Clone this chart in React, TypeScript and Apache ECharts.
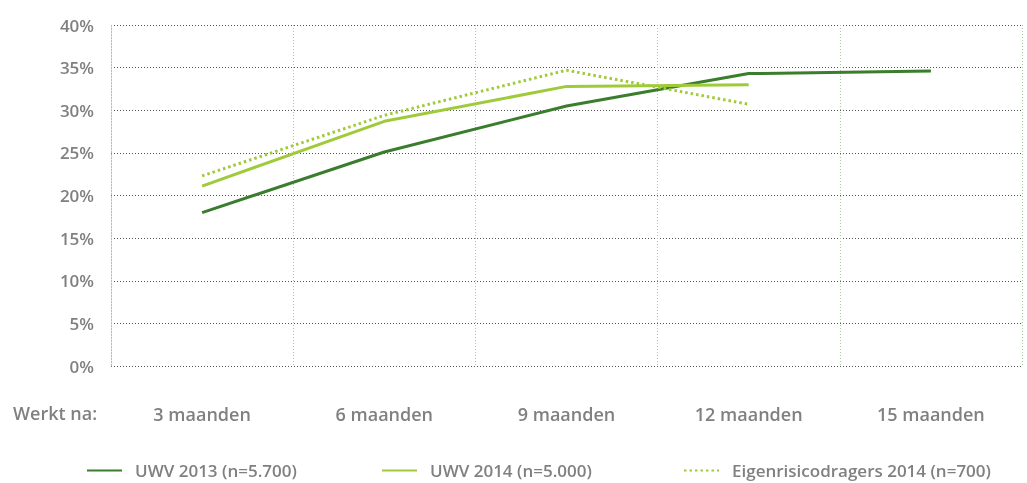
import React, { useEffect, useRef } from "react";
import * as echarts from "echarts";

const categories = ["3 maanden", "6 maanden", "9 maanden", "12 maanden", "15 maanden"];
const uwv2013 = [18.0, 25.1, 30.5, 34.3, 34.6];
const uwv2014 = [21.1, 28.7, 32.8, 33.0, null];
const eigen2014 = [22.3, 29.4, 34.7, 30.7, null];
const seriesNames = ["UWV 2013 (n=5.700)", "UWV 2014 (n=5.000)", "Eigenrisicodragers 2014 (n=700)"];

const DARK = "#3a7d2c";
const LIGHT = "#9fcb3a";
const GRAY = "#808080";
const FONT = "'Open Sans'";

export default function App() {
  const ref = useRef<HTMLDivElement>(null);
  useEffect(() => {
    if (!ref.current) return;
    const chart = echarts.init(ref.current, null, { renderer: "svg" });
    const legendBase = {
      top: 462,
      padding: 0,
      itemWidth: 35,
      itemHeight: 10,
      itemStyle: { opacity: 0 },
      textStyle: { color: GRAY, fontSize: 17, lineHeight: 17, fontFamily: FONT, fontWeight: 600, padding: [0, 0, 0, 8] },
    };
    chart.setOption({
      animation: false,
      grid: { left: 111, right: 5, top: 25, bottom: 117 },
      legend: [
        { ...legendBase, left: 86, data: [seriesNames[0]] },
        { ...legendBase, left: 381, data: [seriesNames[1]] },
        { ...legendBase, left: 683, data: [seriesNames[2]] },
      ],
      graphic: [
        {
          type: "text",
          left: 13,
          top: 404,
          style: { text: "Werkt na:", fill: GRAY, fontSize: 18, fontFamily: FONT, fontWeight: 600 },
        },
      ],
      xAxis: {
        type: "category",
        data: categories,
        boundaryGap: true,
        axisLine: { show: false },
        axisTick: { show: false },
        axisLabel: { color: GRAY, fontSize: 18, fontFamily: FONT, fontWeight: 600, margin: 39 },
        splitLine: { show: true, lineStyle: { color: "#a9c99f", type: [1, 2], width: 1 } },
      },
      yAxis: {
        type: "value",
        min: 0,
        max: 40,
        interval: 5,
        axisLine: { show: true, lineStyle: { color: "#a9c99f", type: [1, 2], width: 1 } },
        axisTick: { show: false },
        axisLabel: { color: GRAY, fontSize: 17, fontFamily: FONT, fontWeight: 600, margin: 17, formatter: "{value}%" },
        splitLine: { show: true, lineStyle: { color: "#555555", type: [1, 2], width: 1 } },
      },
      series: [
        {
          name: seriesNames[0],
          type: "line",
          data: uwv2013,
          symbol: "none",
          lineStyle: { color: DARK, width: 3 },
          itemStyle: { color: DARK },
        },
        {
          name: seriesNames[1],
          type: "line",
          data: uwv2014,
          symbol: "none",
          lineStyle: { color: LIGHT, width: 3 },
          itemStyle: { color: LIGHT },
        },
        {
          name: seriesNames[2],
          type: "line",
          data: eigen2014,
          symbol: "none",
          lineStyle: { color: LIGHT, width: 3, type: [2.5, 3] },
          itemStyle: { color: LIGHT },
        },
      ],
    });
    return () => chart.dispose();
  }, []);
  return <div ref={ref} style={{ position: "fixed", left: 0, top: 0, width: 1027, height: 483 }} />;
}
